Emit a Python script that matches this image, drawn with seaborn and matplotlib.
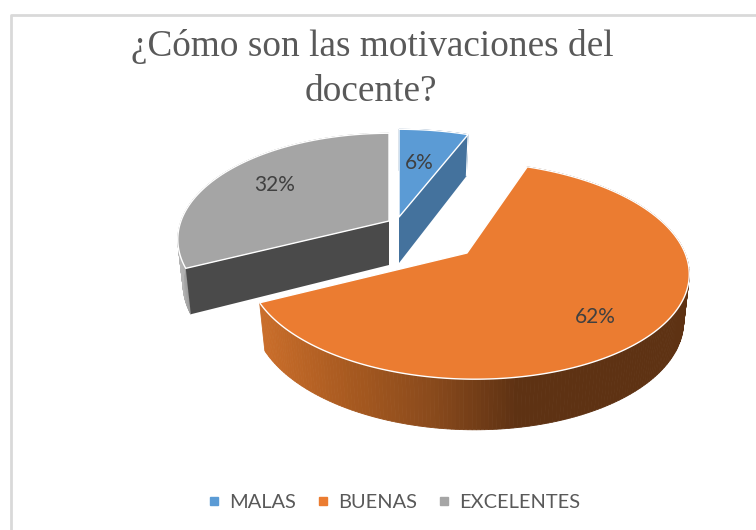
"""
3D style pie chart of the teacher motivation survey.
"""

import numpy as np
import seaborn as sns
import matplotlib.pyplot as plt
from matplotlib.colors import LinearSegmentedColormap
from matplotlib.lines import Line2D

categories = ['MALAS', 'BUENAS', 'EXCELENTES']
values = [6, 62, 32]
title_lines = ['¿Cómo son las motivaciones del', 'docente?']

top_colors = ['#5B9BD5', '#EB7C31', '#A5A5A5']
cut_colors = ['#44729D', '#C0662A', '#4A4A4A']
rim_colors = [
    ['#44729D', '#44729D'],
    ['#C96D2A', '#A85A20', '#8A4A1C', '#5E3213', '#5E3213', '#5E3213'],
    ['#B5B5B5', '#7F7F7F'],
]

# layout of the drawing, in pixels of the figure
apex = [(399, 217), (467, 253), (389, 221)]
radius_x = [218, 218, 208]
radius_y = [103, 106, 103]
tilt = [0.174, 0.16, 0.174]
depth = [46, 46, 44]
skew = [0, 8, 0]
turn = [0, -0.012, 0]
label_xy = [(419, 163), (595, 317), (275, 185)]
draw_order = [2, 0, 1]

sns.set_theme(style='white')

fig = plt.figure(figsize=(7.56, 5.30), dpi=100)
ax = fig.add_axes([0, 0, 1, 1])
ax.set_xlim(0, 756)
ax.set_ylim(530, 0)
ax.axis('off')

# chart border, the picture cuts it off on the right and at the bottom
ax.plot([10.5, 10.5, 756], [530, 15, 15], color='#D9D9D9', lw=2, zorder=0)


def project(i, ang, r=1.0):
    """Angle clockwise from the top of the pie to top face pixels."""
    px = r * np.sin(ang + turn[i])
    py = r * np.cos(ang + turn[i])
    w = 1 + tilt[i] * py
    return apex[i][0] + radius_x[i] * px / w - skew[i] * py, apex[i][1] - radius_y[i] * py / w, py


def project_low(i, ang, r=1.0):
    x, y, py = project(i, ang, r)
    return apex[i][0] + (x - apex[i][0]) * 0.975, y + depth[i] * (1 - 0.1 * py)


edges = np.cumsum([0] + values) / sum(values) * 2 * np.pi

for i in draw_order:
    ang = np.linspace(edges[i], edges[i + 1], 240)
    x, y, _ = project(i, ang)
    xl, yl = project_low(i, ang)

    # outer rim, shaded from left to right
    cmap = LinearSegmentedColormap.from_list('rim', rim_colors[i])
    x_min, x_max = (262, 690) if i == 1 else (x.min(), x.max())
    if i == 2:
        x_max = x_min + 16
    for k in range(len(ang) - 1):
        col = cmap(np.clip((x[k] - x_min) / (x_max - x_min), 0, 1))
        ax.fill([x[k], x[k + 1], xl[k + 1], xl[k]], [y[k], y[k + 1], yl[k + 1], yl[k]],
                color=col, lw=0.6, zorder=2 + draw_order.index(i))

    # cut faces of the slice
    for a in (edges[i], edges[i + 1]):
        if i == 1:
            continue
        x0, y0, _ = project(i, a, 0.0)
        x1, y1, _ = project(i, a)
        xl0, yl0 = project_low(i, a, 0.0)
        xl1, yl1 = project_low(i, a)
        ax.fill([x0, x1, xl1, xl0], [y0, y1, yl1, yl0], color=cut_colors[i], lw=0,
                zorder=2.2 + draw_order.index(i))
        if a == edges[i + 1]:
            ax.plot([x1, xl1], [y1, yl1], color='white', lw=0.8, zorder=2.3 + draw_order.index(i))

    # top face
    x0, y0, _ = project(i, 0.0, 0.0)
    ax.fill(np.r_[x0, x, x0], np.r_[y0, y, y0], facecolor=top_colors[i], edgecolor='white',
            lw=1.0, joinstyle='round', zorder=2.5 + draw_order.index(i))

for i, val in enumerate(values):
    ax.text(label_xy[i][0], label_xy[i][1], f'{val}%', family='Lato', fontsize=15,
            color='#404040', ha='center', va='center', zorder=10)

ax.text(372, 47, title_lines[0], family='Liberation Serif', fontsize=26.8, color='#595959',
        ha='center', va='center')
ax.text(371, 92, title_lines[1], family='Liberation Serif', fontsize=26.8, color='#595959',
        ha='center', va='center')

handles = [Line2D([], [], ls='', marker='s', ms=6, color=c) for c in top_colors]
ax.legend(handles, categories, ncol=3, frameon=False, loc='center',
          bbox_to_anchor=(394, 502), bbox_transform=ax.transData,
          prop={'family': 'Lato', 'size': 14.4}, labelcolor='#595959',
          handlelength=0.6, handletextpad=0.45, columnspacing=1.05)

fig.savefig('out.png', dpi=100)
